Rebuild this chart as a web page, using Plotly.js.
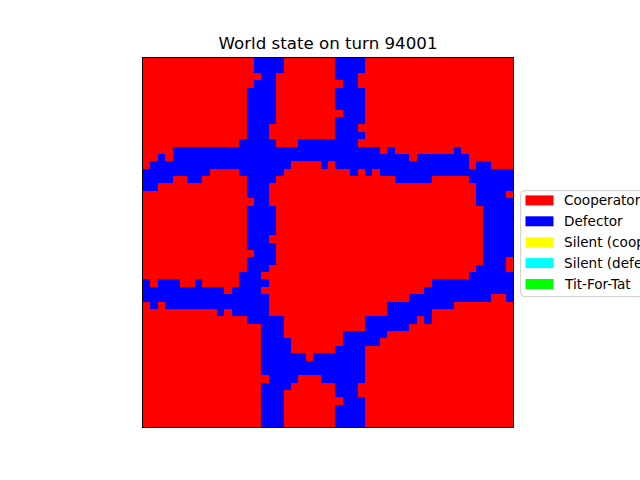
<!DOCTYPE html>
<html>
<head>
<meta charset="utf-8">
<script src="https://cdn.plot.ly/plotly-3.0.1.min.js"></script>
<style>html,body{margin:0;padding:0;background:#fff;}#chart{width:640px;height:480px;}</style>
</head>
<body>
<div id="chart"></div>
<script>
// Agent states: C = Cooperator, D = Defector (row 0 = top of the grid)
const gridRows = [
"CCCCCCCCCC CCCCCDDDDC CCCCCCDDDD CCCCCCCCCC CCCCCCCCCC",
"CCCCCCCCCC CCCCCDDDDC CCCCCCDDDD CCCCCCCCCC CCCCCCCCCC",
"CCCCCCCCCC CCCCCCDDCC CCCCCCDDDC CCCCCCCCCC CCCCCCCCCC",
"CCCCCCCCCC CCCCCDDDCC CCCCCCCDDC CCCCCCCCCC CCCCCCCCCC",
"CCCCCCCCCC CCCCDDDDCC CCCCCCDDDD CCCCCCCCCC CCCCCCCCCC",
"CCCCCCCCCC CCCCDDDDCC CCCCCCDDDD CCCCCCCCCC CCCCCCCCCC",
"CCCCCCCCCC CCCCDDDDCC CCCCCCDDDD CCCCCCCCCC CCCCCCCCCC",
"CCCCCCCCCC CCCCDDDDCC CCCCCCCDDD CCCCCCCCCC CCCCCCCCCC",
"CCCCCCCCCC CCCCDDDDCC CCCCCCDDDD CCCCCCCCCC CCCCCCCCCC",
"CCCCCCCCCC CCCCDDDCCC CCCCCCDDDC CCCCCCCCCC CCCCCCCCCC",
"CCCCCCCCCC CCCCDDDCCC CCCCCCDDDD CCCCCCCCCC CCCCCCCCCC",
"CCCCCCCCCC CCCDDDDDCC CDDDDDDDDC CCCCCCCCCC CCCCCCCCCC",
"CCCCDDDDDD DDDDDDDDDD DDDDDDDDDD DDCDCCCCCC CCDCCCCCCC",
"CCDCDDDDDD DDDDDDDDDD DDDDDDDDDD DDDDDDCDDD DDDDCCCCCC",
"CDDDDDDDDD DDDDDDDDDD CCCCDCDDDD DDDDDDDDDD DDDDCDDCCC",
"DDDDDDDDDC CCCDDDDDDC CCCCCCCCDC DCDDDDDDDD DDDDDDDDDD",
"DDDDCCDDCC CCCCDDDDCC CCCCCCCCCC CCCCDDDDDC CCCCDDDDDD",
"DDCCCCCCCC CCCCDDDCCC CCCCCCCCCC CCCCCCCCCC CCCCCDDDDD",
"CCCCCCCCCC CCCCDDDCCC CCCCCCCCCC CCCCCCCCCC CCCCCDDDDC",
"CCCCCCCCCC CCCCCDDCCC CCCCCCCCCC CCCCCCCCCC CCCCCDDDDD",
"CCCCCCCCCC CCCCDDDDCC CCCCCCCCCC CCCCCCCCCC CCCCCCDDDD",
"CCCCCCCCCC CCCCDDDDCC CCCCCCCCCC CCCCCCCCCC CCCCCCDDDD",
"CCCCCCCCCC CCCCDDDDCC CCCCCCCCCC CCCCCCCCCC CCCCCCDDDD",
"CCCCCCCCCC CCCCDDDDCC CCCCCCCCCC CCCCCCCCCC CCCCCCDDDD",
"CCCCCCCCCC CCCCDDDCCC CCCCCCCCCC CCCCCCCCCC CCCCCCDDDD",
"CCCCCCCCCC CCCCDDDDCC CCCCCCCCCC CCCCCCCCCC CCCCCCDDDD",
"CCCCCCCCCC CCCCCDDDCC CCCCCCCCCC CCCCCCCCCC CCCCCCDDDD",
"CCCCCCCCCC CCCCDDDDCC CCCCCCCCCC CCCCCCCCCC CCCCCCDDDC",
"CCCCCCCCCC CCCCDDDCCC CCCCCCCCCC CCCCCCCCCC CCCCCDDDDC",
"CCCCCCCCCC CCCDDDCCCC CCCCCCCCCC CCCCCCCCCC CCCCDDDDDD",
"DCDDDCCDCC CCCDDDDCCC CCCCCCCCCC CCCCCCCCCD DDDDDDDDDD",
"DDDDDDDDDD DCDDDDCCCC CCCCCCCCCC CCCCCCCCDD DDDDDDDDDD",
"DDDDDDDDDD DDDDDDDCCC CCCCCCCCCC CCCCCCDDDD DDDDDDDCCD",
"CDCDDDDDDD DDDDDDDCCC CCCCCCCCCC CCCDDDDDDD DDCCCCCCCC",
"CCCCCCCCCC DCDDDDDCCC CCCCCCCCCC CCCDDDDDDC CCCCCCCCCC",
"CCCCCCCCCC CCCCDDDDDC CCCCCCCCCC DDDDDDDCDC CCCCCCCCCC",
"CCCCCCCCCC CCCCCCDDDC CCCCCCCCCC DDDDDDCCCC CCCCCCCCCC",
"CCCCCCCCCC CCCCCCDDDC CCCCCCCDDD DDDCCCCCCC CCCCCCCCCC",
"CCCCCCCCCC CCCCCCDDDD CCCCCCCDDD DDCCCCCCCC CCCCCCCCCC",
"CCCCCCCCCC CCCCCCDDDD CCCCCCDDDD CCCCCCCCCC CCCCCCCCCC",
"CCCCCCCCCC CCCCCCDDDD DDCDDDDDDD CCCCCCCCCC CCCCCCCCCC",
"CCCCCCCCCC CCCCCCDDDD DDDDDDDDDD CCCCCCCCCC CCCCCCCCCC",
"CCCCCCCCCC CCCCCCDDDD DDDDDDDDDD CCCCCCCCCC CCCCCCCCCC",
"CCCCCCCCCC CCCCCCCDDD DCCCDDDDDD CCCCCCCCCC CCCCCCCCCC",
"CCCCCCCCCC CCCCCCDDDD CCCCCCDDDC CCCCCCCCCC CCCCCCCCCC",
"CCCCCCCCCC CCCCCCDDDC CCCCCCDDDC CCCCCCCCCC CCCCCCCCCC",
"CCCCCCCCCC CCCCCCDDDC CCCCCCCDDD CCCCCCCCCC CCCCCCCCCC",
"CCCCCCCCCC CCCCCCDDDC CCCCCCDDDD CCCCCCCCCC CCCCCCCCCC",
"CCCCCCCCCC CCCCCCDDDC CCCCCCDDDD CCCCCCCCCC CCCCCCCCCC",
"CCCCCCCCCC CCCCCCDDDC CCCCCCDDDD CCCCCCCCCC CCCCCCCCCC"
];
const stateLetters = ["C", "D", "Y", "A", "T"];
const categories = ["Cooperator", "Defector", "Silent (cooperator)", "Silent (defector)", "Tit-For-Tat"];
const categoryColors = ["#ff0000", "#0000ff", "#ffff00", "#00ffff", "#00ff00"];
const titleText = "World state on turn 94001";

const z = gridRows.map(r => r.replace(/ /g, "").split("").map(ch => stateLetters.indexOf(ch)));
const n = categories.length;
const colorscale = [];
categoryColors.forEach((c, i) => { colorscale.push([i / n, c]); colorscale.push([(i + 1) / n, c]); });

// plot area in pixels
const PL = 143, PR = 513, PT = 58, PB = 427;
const px = v => (v - PL) / (PR - PL);
const py = v => (PB - v) / (PB - PT);

const shapes = [];
const annotations = [];
// legend frame
const fL = 520.7, fT = 190.7, fB = 296.7, fR = 720, rr = 4;
shapes.push({
  type: "path", xref: "paper", yref: "paper",
  path: `M ${px(fR)},${py(fT)} L ${px(fL + rr)},${py(fT)} Q ${px(fL)},${py(fT)} ${px(fL)},${py(fT + rr)} L ${px(fL)},${py(fB - rr)} Q ${px(fL)},${py(fB)} ${px(fL + rr)},${py(fB)} L ${px(fR)},${py(fB)} Z`,
  line: {color: "#cccccc", width: 1}, fillcolor: "rgba(255,255,255,0.8)", layer: "above"
});
categories.forEach((name, i) => {
  const cy = 200.4 + 20.9 * i;
  shapes.push({
    type: "rect", xref: "paper", yref: "paper",
    x0: px(525.5), x1: px(553.5), y0: py(cy - 5), y1: py(cy + 5),
    line: {width: 0}, fillcolor: categoryColors[i], layer: "above"
  });
  annotations.push({
    xref: "paper", yref: "paper", x: px(562), y: py(cy),
    xanchor: "left", yanchor: "middle", showarrow: false, text: name,
    font: {family: "DejaVu Sans", size: 13.6, color: "#000"}
  });
});

const trace = {
  type: "heatmap", z: z, zmin: -0.5, zmax: n - 0.5,
  colorscale: colorscale, showscale: false, hoverinfo: "skip"
};
const axis = {
  showticklabels: false, ticks: "", showgrid: false, zeroline: false,
  showline: true, mirror: true, linecolor: "#000", linewidth: 1
};
const layout = {
  width: 640, height: 480,
  margin: {l: PL, r: 640 - PR, t: PT, b: 480 - PB, autoexpand: false},
  paper_bgcolor: "#fff", plot_bgcolor: "#fff",
  title: {text: titleText, font: {family: "DejaVu Sans", size: 16.67, color: "#000"},
          x: 0.5, xref: "paper", xanchor: "center", y: 1 - 43.5 / 480, yref: "container", yanchor: "middle"},
  xaxis: Object.assign({range: [-0.5, 49.5]}, axis),
  yaxis: Object.assign({range: [49.5, -0.5]}, axis),
  shapes: shapes, annotations: annotations, showlegend: false
};
Plotly.newPlot("chart", [trace], layout, {staticPlot: true, displayModeBar: false});
</script>
</body>
</html>
